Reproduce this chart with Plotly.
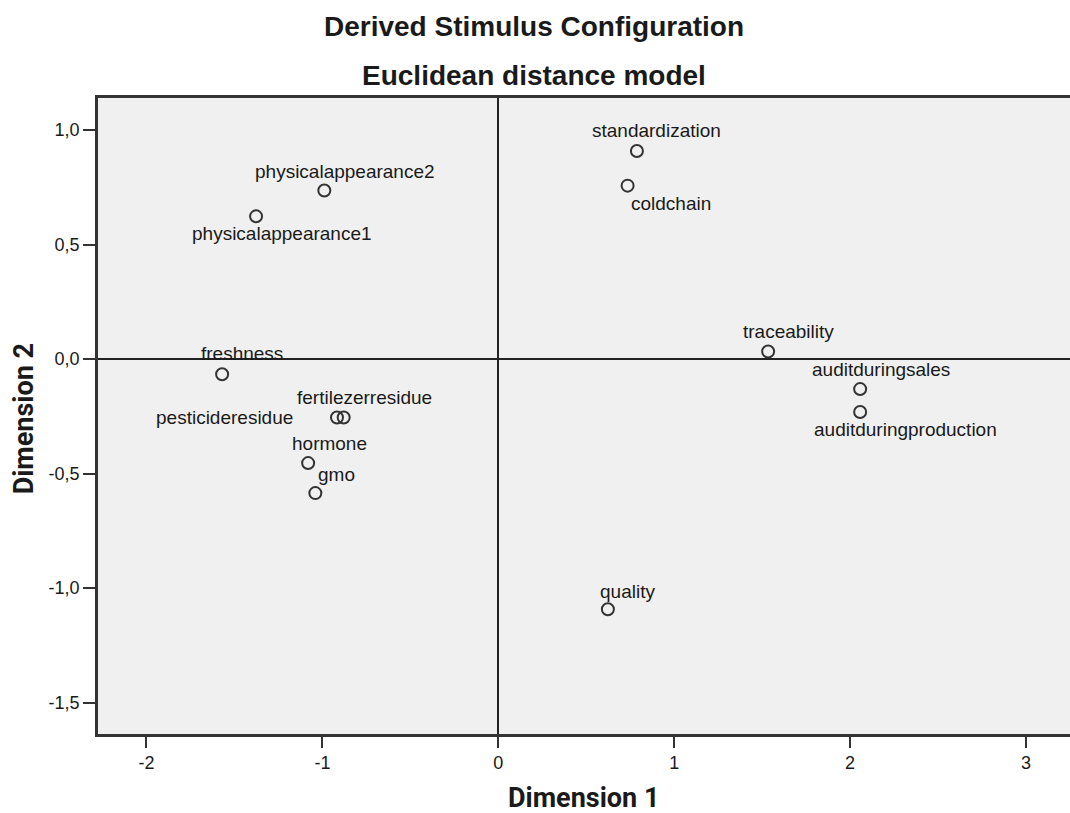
import plotly.graph_objects as go

# ---- data ----
stimuli = ["standardization", "coldchain", "physicalappearance2", "physicalappearance1",
           "traceability", "freshness", "auditduringsales", "auditduringproduction",
           "fertilezerresidue", "pesticideresidue", "hormone", "gmo", "quality"]
dim1 = [0.788, 0.735, -0.989, -1.377, 1.534, -1.570, 2.057, 2.057, -0.879, -0.917, -1.081, -1.040, 0.623]
dim2 = [0.908, 0.757, 0.736, 0.623, 0.033, -0.066, -0.131, -0.231, -0.255, -0.255, -0.454, -0.585, -1.092]

x_tickvals = [-2, -1, 0, 1, 2, 3]
x_ticktext = ["-2", "-1", "0", "1", "2", "3"]
y_tickvals = [-1.5, -1.0, -0.5, 0.0, 0.5, 1.0]
y_ticktext = ["-1,5", "-1,0", "-0,5", "0,0", "0,5", "1,0"]

# label placement (pixel offsets of the label centre from its point; dy positive = down)
label_offsets = {
    "standardization": (20, -20.6), "coldchain": (43, 18), "physicalappearance2": (20.7, -19),
    "physicalappearance1": (26, 17.6), "traceability": (20, -20), "freshness": (20, -21),
    "auditduringsales": (21, -20), "auditduringproduction": (45, 18), "fertilezerresidue": (20.5, -20),
    "pesticideresidue": (-112.7, 0), "hormone": (21, -20), "gmo": (21, -19), "quality": (20, -17.6),
}

AX = "#333333"
TXT = "#1a1a1a"

fig = go.Figure()
fig.add_trace(go.Scatter(
    x=dim1, y=dim2, mode="markers",
    marker=dict(symbol="circle-open", size=12, color=AX, line=dict(width=2, color=AX)),
    hoverinfo="text", text=stimuli, showlegend=False,
))

annotations = []
for name, xv, yv in zip(stimuli, dim1, dim2):
    dx, dy = label_offsets[name]
    annotations.append(dict(
        x=xv, y=yv, xref="x", yref="y", text=name, showarrow=False,
        xshift=dx, yshift=-dy, xanchor="center", yanchor="middle",
        font=dict(family="Liberation Sans, Arial, sans-serif", size=19, color=TXT),
    ))

annotations += [
    dict(text="<b>Derived Stimulus Configuration</b>", x=0.4485, y=1.113, xref="paper", yref="paper",
         showarrow=False, xanchor="center", yanchor="middle",
         font=dict(family="Liberation Sans, Arial, sans-serif", size=28, color=TXT)),
    dict(text="<b>Euclidean distance model</b>", x=0.4485, y=1.035, xref="paper", yref="paper",
         showarrow=False, xanchor="center", yanchor="middle",
         font=dict(family="Liberation Sans, Arial, sans-serif", size=28, color=TXT)),
    dict(text="<b>Dimension 1</b>", x=0.4997, y=-0.0999, xref="paper", yref="paper",
         showarrow=False, xanchor="center", yanchor="middle",
         font=dict(family="Roboto, Liberation Sans, sans-serif", size=27, color=TXT)),
    dict(text="<b>Dimension 2</b>", x=-0.0766, y=0.4956, xref="paper", yref="paper", textangle=-90,
         showarrow=False, xanchor="center", yanchor="middle",
         font=dict(family="Roboto, Liberation Sans, sans-serif", size=27, color=TXT)),
]

fig.update_layout(
    width=1070, height=813,
    margin=dict(l=97.5, r=0, t=98.4, b=79, pad=0),
    paper_bgcolor="white", plot_bgcolor="#f0f0f0",
    annotations=annotations,
    hovermode="closest",
)
fig.update_xaxes(
    range=[-2.2756, 3.25], tickvals=x_tickvals, ticktext=x_ticktext,
    showgrid=False, zeroline=True, zerolinecolor="#222222", zerolinewidth=2,
    showline=True, linecolor=AX, linewidth=2.5, mirror=True,
    ticks="outside", ticklen=11, tickwidth=2, tickcolor=AX,
    tickfont=dict(family="Liberation Sans, Arial, sans-serif", size=18, color=TXT),
)
fig.update_yaxes(
    range=[-1.6365, 1.1395], tickvals=y_tickvals, ticktext=y_ticktext,
    showgrid=False, zeroline=True, zerolinecolor="#222222", zerolinewidth=2,
    showline=True, linecolor=AX, linewidth=2.5, mirror=False,
    ticks="outside", ticklen=12, tickwidth=2, tickcolor=AX,
    tickfont=dict(family="Liberation Sans, Arial, sans-serif", size=18, color=TXT),
)

# remove the default 8px page margin so the 1070x813 figure fills the window exactly
fig.write_html(
    "out.html",
    config={"displayModeBar": False},
    post_script="document.body.style.margin='0';document.body.style.overflow='hidden';",
)
